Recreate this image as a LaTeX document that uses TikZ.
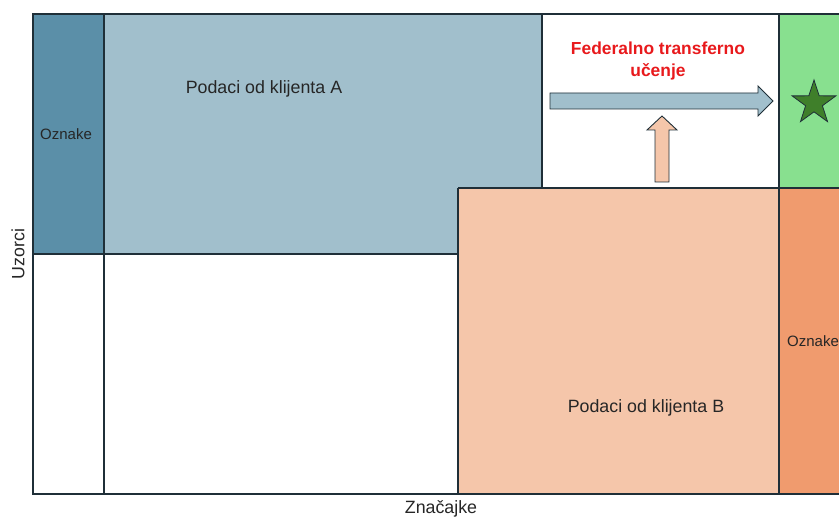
\documentclass[tikz,border=0pt]{standalone}
\usepackage{fontspec}
\setmainfont{Liberation Sans}
\usetikzlibrary{shapes.geometric}
\definecolor{oznakeA}{HTML}{5B8FA8}
\definecolor{klijentA}{HTML}{A1BFCC}
\definecolor{klijentB}{HTML}{F5C6AA}
\definecolor{oznakeB}{HTML}{F09B6E}
\definecolor{zelena}{HTML}{88E08F}
\definecolor{zvijezda}{HTML}{3F7F2A}
\definecolor{rub}{HTML}{1F2F38}
\definecolor{crvena}{HTML}{E8191C}
\tikzset{
    rub/.style={draw=rub,line width=1.1pt},
    tekst/.style={font=\fontsize{17.8}{21}\selectfont,text=black!85,inner sep=0pt},
    oznaka/.style={tekst,font=\fontsize{15}{18}\selectfont},
}

\begin{document}
\begin{tikzpicture}[x=1pt,y=-1pt]
            \useasboundingbox (0,0) rectangle (839,518);
            % podrucja
            \fill[klijentA] (104,14) rectangle (542,254);
            \fill[oznakeA] (33,14) rectangle (104,254);
            \fill[zelena] (779,14) rectangle (860,188);
            \fill[klijentB] (458,188) rectangle (779,494);
            \fill[oznakeB] (779,188) rectangle (860,494);
            \draw[rub] (33,14) rectangle (860,494);
            \draw[rub] (33,254)--(458,254);
            \draw[rub] (104,14)--(104,494);
            \draw[rub] (542,14)--(542,188);
            \draw[rub] (458,188)--(860,188);
            \draw[rub] (458,188)--(458,494);
            \draw[rub] (779,14)--(779,494);
            % strelice
            \draw[rub,line width=0.9pt,fill=klijentA] (550,93)--(758,93)--(758,86)--(773,101)--(758,116)--(758,109)--(550,109)--cycle;
            \draw[rub,line width=0.9pt,fill=klijentB] (655,182)--(655,130)--(647,130)--(662,116)--(677,130)--(669,130)--(669,182)--cycle;
            \node[star,star points=5,star point ratio=2.6,minimum size=46pt,inner sep=0pt,fill=zvijezda,draw=rub,line width=0.8pt] (cilj) at (814,103) {};
            % tekstovi
            \node[tekst] (podaciA) at (264,89) {Podaci od klijenta A};
            \node[tekst] (podaciB) at (646,408) {Podaci od klijenta B};
            \node[oznaka] (oznA) at (66,134) {Oznake};
            \node[oznaka,anchor=west] (oznB) at (787,341) {Oznake};
            \node[tekst,font=\bfseries\fontsize{17.4}{22}\selectfont,text=crvena,align=center] (fed) at (658,61) {Federalno transferno\\u\v{c}enje};
            \node[tekst,rotate=90] (uzorci) at (18,254) {Uzorci};
            \node[tekst] (znacajke) at (441,509) {Zna\v{c}ajke};
        \end{tikzpicture}
\end{document}
